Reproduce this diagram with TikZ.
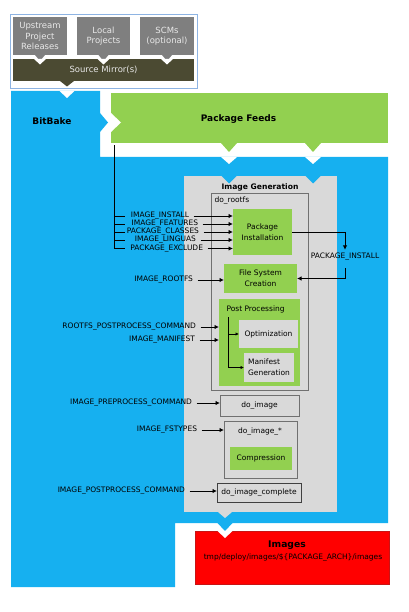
\documentclass[tikz,border=0pt]{standalone}
\usepackage{fontspec}
\setmainfont{DejaVu Sans}
\usetikzlibrary{arrows.meta,calc}
\definecolor{bbblue}{HTML}{16B0F0}
\definecolor{fgreen}{HTML}{92D050}
\definecolor{srcgray}{HTML}{7F7F7F}
\definecolor{srctext}{HTML}{E8E8E8}
\definecolor{mirror}{HTML}{4B4A32}
\definecolor{igray}{HTML}{D9D9D9}
\definecolor{frameblue}{HTML}{8EB4E3}
\definecolor{boxline}{HTML}{707070}
\definecolor{imgred}{HTML}{FF0000}
\begin{document}
\begin{tikzpicture}[x=1pt,y=-1pt,
  every node/.style={inner sep=0pt, outer sep=0pt},
  lab/.style={anchor=east, font=\fontsize{7.5}{8.5}\selectfont},
  txt/.style={font=\fontsize{7.5}{10.8}\selectfont, align=center},
  srcbox/.style={fill=srcgray, text=srctext, font=\fontsize{8.5}{10.5}\selectfont, align=center, minimum width=54pt, minimum height=38pt},
  gbox/.style={fill=fgreen, font=\fontsize{7.5}{10.8}\selectfont, align=center},
  obox/.style={draw=boxline, line width=0.8pt},
  arr/.style={-{Latex[length=4.5pt,width=4.5pt]}, line width=0.9pt, shorten <=4.5pt},
  sarr/.style={-{Latex[length=3.5pt,width=3.5pt]}, line width=0.8pt},
  conn/.style={line width=0.9pt}
]
\useasboundingbox (0,0) rectangle (408,612);
\fill[white] (0,0) rectangle (408,612);

% ---------- source section
\draw[frameblue, line width=0.8pt] (10,14) rectangle (197,88);
\node[srcbox] (ups) at (40,36) {Upstream\\Project\\Releases};
\node[srcbox, minimum width=53pt] (loc) at (103.5,36) {Local\\Projects};
\node[srcbox] (scm) at (167,36) {SCMs\\(optional)};
\node[fill=mirror, text=srctext, font=\fontsize{8.5}{10}\selectfont, minimum width=181pt, minimum height=22pt] (mir) at (103.5,70) {Source Mirror(s)};
\foreach \cx in {40,103.5,167} {
  \fill[srcgray] (\cx-5,55) -- (\cx+5,55) -- (\cx,61) -- cycle;
  \fill[white] (\cx-6,59) -- (\cx+6,59) -- (\cx,64.5) -- cycle;
}
\fill[mirror] (60,81) -- (74,81) -- (67,86.5) -- cycle;

% ---------- BitBake blue region
\fill[bbblue] (11,91) -- (100,91) -- (100,157) -- (388,157) -- (388,523) -- (175,523) -- (175,587) -- (11,587) -- cycle;
\fill[white] (59.5,91) -- (74.5,91) -- (67,98) -- cycle;
\fill[bbblue] (100,113) -- (108,122.5) -- (100,132) -- cycle;
\node[font=\bfseries\fontsize{9}{11}\selectfont] (bb) at (52,121) {BitBake};

% ---------- Package feeds
\node[fill=fgreen, minimum width=277pt, minimum height=50pt] (pf) at (249.5,118) {};
\fill[white] (111,113) -- (121,122.5) -- (111,132) -- cycle;
\foreach \cx in {229,313} {
  \fill[fgreen] (\cx-8,143) -- (\cx+8,143) -- (\cx,152) -- cycle;
  \fill[white] (\cx-8,157) -- (\cx+8,157) -- (\cx,164) -- cycle;
}
\node[font=\bfseries\fontsize{9}{11}\selectfont] (pfl) at (238.5,118.7) {Package Feeds};

% ---------- Image generation
\node[fill=igray, minimum width=153pt, minimum height=336pt] (ig) at (260.5,344) {};
\foreach \cx in {229,313}
  \fill[bbblue] (\cx-7.5,176) -- (\cx+7.5,176) -- (\cx,183.5) -- cycle;
\fill[igray] (218,512) -- (232,512) -- (225,518) -- cycle;
\node[font=\bfseries\fontsize{7.6}{9}\selectfont] (igt) at (260,187) {Image Generation};

\node[obox, minimum width=97pt, minimum height=197pt] (rootfs) at (259.5,291.5) {};
\node[anchor=west, font=\fontsize{7.5}{8.5}\selectfont] (rootfsl) at (214.5,201) {do\_rootfs};
\node[gbox, minimum width=59pt, minimum height=46pt] (pkg) at (262.5,232) {Package\\Installation};
\node[gbox, minimum width=73pt, minimum height=29pt] (fsc) at (260.5,278.5) {File System\\Creation};
\node[fill=fgreen, minimum width=81pt, minimum height=87pt] (pp) at (259.5,342.5) {};
\node[anchor=west, font=\fontsize{7.5}{8.5}\selectfont] (ppl) at (226.5,309) {Post Processing};
\node[fill=igray, txt, minimum width=59pt, minimum height=28pt] (opt) at (268.5,334) {Optimization};
\node[fill=igray, txt, align=left, minimum width=50pt, minimum height=29pt] (man) at (269,367.5) {Manifest\\Generation};
\coordinate (tt) at (228,317);
\draw[sarr] (tt) |- (man.west);
\draw[sarr] (tt |- opt.west) -- (opt.west);

\node[obox, txt, minimum width=79pt, minimum height=21pt] (doimg) at (259.5,405.5) {do\_image};
\node[obox, minimum width=73pt, minimum height=57pt] (doimgs) at (260.5,449.5) {};
\node[txt] (doimgsl) at (260,432) {do\_image\_*};
\node[gbox, minimum width=62pt, minimum height=23pt] (comp) at (261,458.5) {Compression};
\node[draw=black!75, line width=0.9pt, txt, minimum width=84pt, minimum height=19pt] (doimgc) at (259,492.5) {do\_image\_complete};

% ---------- Images
\node[fill=imgred, draw={rgb,255:red,200;green,20;blue,20}, line width=0.4pt, minimum width=194pt, minimum height=53pt] (img) at (292,557.5) {};
\fill[bbblue] (217.5,523) -- (232.5,523) -- (225,531) -- cycle;
\fill[white] (217.5,531) -- (232.5,531) -- (225,538) -- cycle;
\node[font=\bfseries\fontsize{9.2}{11}\selectfont] (imgt) at (287,545) {Images};
\node[font=\fontsize{7.5}{8.5}\selectfont] (imgp) at (293,558) {tmp/deploy/images/\$\{PACKAGE\_ARCH\}/images};

% ---------- variable labels
\node[lab] (l1) at (189,216) {IMAGE\_INSTALL};
\node[lab] (l2) at (198,224) {IMAGE\_FEATURES};
\node[lab] (l3) at (199,232) {PACKAGE\_CLASSES};
\node[lab] (l4) at (196,240) {IMAGE\_LINGUAS};
\node[lab] (l5) at (203,248.5) {PACKAGE\_EXCLUDE};
\coordinate (ft) at (114,145.5);
\draw[conn] (ft) -- (ft |- l5.west);
\foreach \l in {l1,l2,l3,l4,l5} {
  \draw[conn] (ft |- \l.west) -- ++(11,0);
  \draw[arr] (\l.east) -- (\l.east -| pkg.west);
}
\node[lab] (lr) at (193,280) {IMAGE\_ROOTFS};
\draw[arr] (lr.east) -- (lr.east -| fsc.west);
\node[lab] (lrp) at (196,327) {ROOTFS\_POSTPROCESS\_COMMAND};
\draw[arr] (lrp.east) -- (lrp.east -| pp.west);
\node[lab] (lm) at (195,340) {IMAGE\_MANIFEST};
\draw[arr] (lm.east) -- (lm.east -| pp.west);
\node[lab] (lpre) at (192,403) {IMAGE\_PREPROCESS\_COMMAND};
\draw[arr] (lpre.east) -- (lpre.east -| doimg.west);
\node[lab] (lfs) at (197,430) {IMAGE\_FSTYPES};
\draw[arr] (lfs.east) -- (lfs.east -| doimgs.west);
\node[lab] (lpost) at (185,491) {IMAGE\_POSTPROCESS\_COMMAND};
\draw[arr] (lpost.east) -- (lpost.east -| doimgc.west);

\node[font=\fontsize{7.5}{8.5}\selectfont] (pinst) at (345,257) {PACKAGE\_INSTALL};
\draw[arr, shorten <=0pt] (pkg.east) -| ([yshift=3.5pt]pinst.north);
\draw[arr, shorten <=0pt] ([yshift=-7.5pt]pinst.south) |- (fsc.east);
\end{tikzpicture}
\end{document}
